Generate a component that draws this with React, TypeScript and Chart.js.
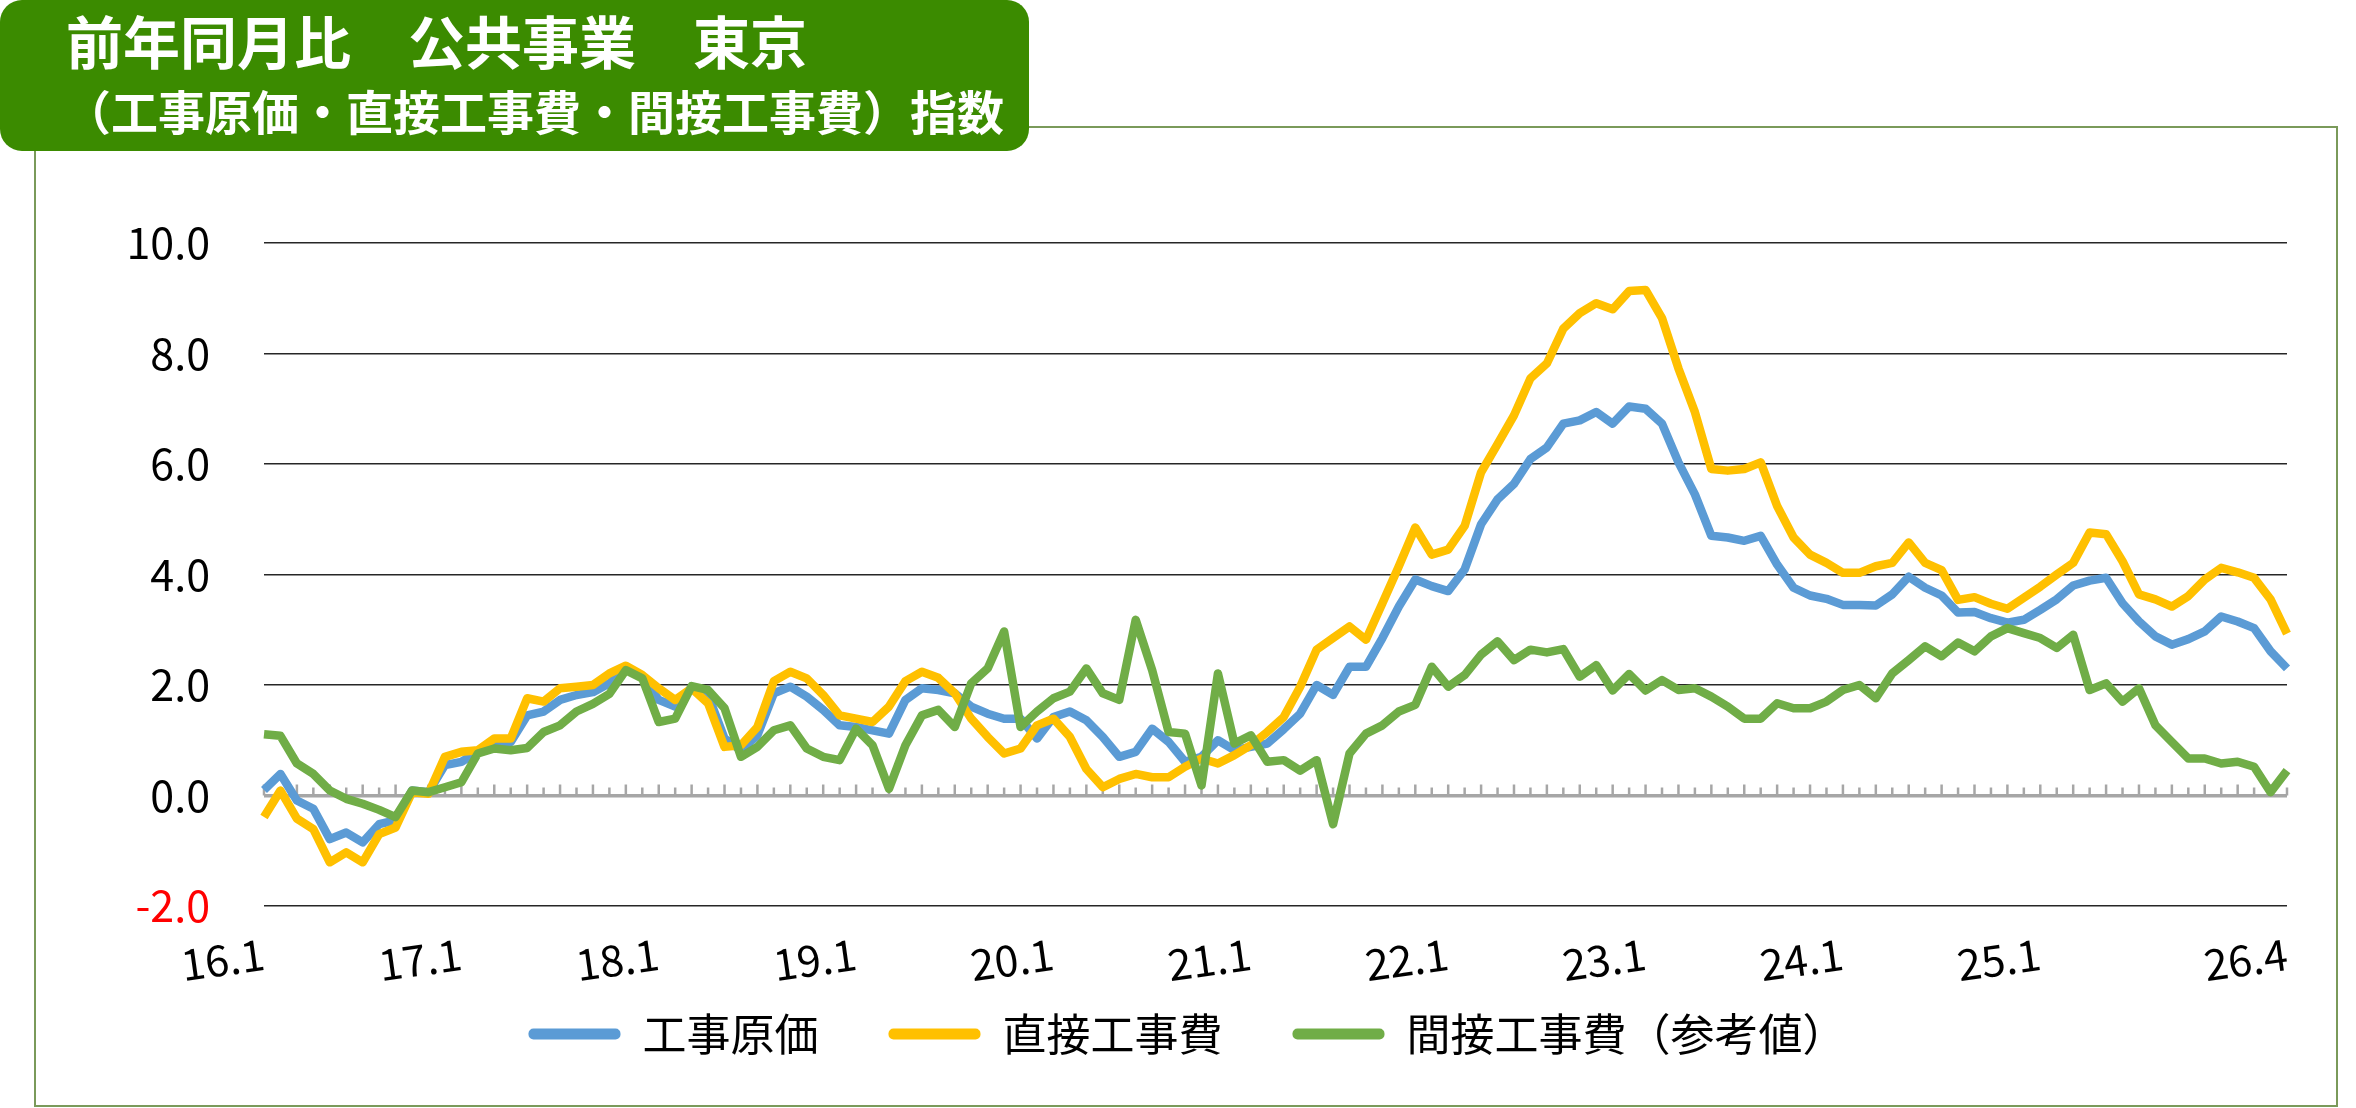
import React, { useEffect, useRef } from "react"
import { Chart, registerables } from "chart.js"

Chart.register(...registerables)

// 16.1 ～ 26.4 の月次カテゴリ
const months: string[] = []
for (let y = 16; y <= 26; y++) {
  for (let m = 1; m <= 12; m++) {
    if (y === 26 && m > 4) break
    months.push(`${y}.${m}`)
  }
}

const shownLabels = ["16.1", "17.1", "18.1", "19.1", "20.1", "21.1", "22.1", "23.1", "24.1", "25.1", "26.4"]

const seriesNames = ["工事原価", "直接工事費", "間接工事費（参考値）"]

const koujiGenka = [
  0.1, 0.39, -0.09, -0.24, -0.79, -0.67, -0.85, -0.52, -0.45, 0.09, 0.06, 0.55,
  0.61, 0.79, 0.97, 0.97, 1.45, 1.52, 1.73, 1.82, 1.87, 2.03, 2.3, 2.15,
  1.73, 1.61, 1.94, 1.82, 1.03, 0.82, 1.09, 1.85, 1.97, 1.79, 1.55, 1.27,
  1.24, 1.18, 1.12, 1.73, 1.94, 1.91, 1.85, 1.61, 1.48, 1.39, 1.39, 1.03,
  1.42, 1.52, 1.36, 1.06, 0.7, 0.79, 1.21, 0.97, 0.61, 0.7, 1.0, 0.82,
  0.88, 0.94, 1.2, 1.48, 2.0, 1.82, 2.33, 2.33, 2.85, 3.42, 3.91, 3.79,
  3.7, 4.09, 4.91, 5.36, 5.64, 6.09, 6.3, 6.73, 6.79, 6.94, 6.73, 7.04,
  7.0, 6.73, 6.03, 5.45, 4.7, 4.67, 4.61, 4.7, 4.18, 3.76, 3.62, 3.56,
  3.45, 3.45, 3.44, 3.64, 3.96, 3.76, 3.62, 3.31, 3.32, 3.21, 3.13, 3.18,
  3.36, 3.55, 3.8, 3.89, 3.94, 3.48, 3.15, 2.88, 2.73, 2.83, 2.97, 3.24,
  3.15, 3.03, 2.61, 2.3,
]

const chokusetsu = [
  -0.39, 0.09, -0.42, -0.61, -1.21, -1.03, -1.21, -0.7, -0.58, 0.06, 0.03, 0.7,
  0.79, 0.82, 1.03, 1.03, 1.76, 1.7, 1.94, 1.97, 2.0, 2.21, 2.35, 2.18,
  1.94, 1.73, 1.94, 1.67, 0.88, 0.91, 1.24, 2.07, 2.24, 2.12, 1.82, 1.45,
  1.39, 1.33, 1.61, 2.07, 2.24, 2.13, 1.85, 1.39, 1.06, 0.76, 0.85, 1.27,
  1.39, 1.06, 0.48, 0.15, 0.3, 0.39, 0.33, 0.33, 0.52, 0.67, 0.58, 0.73,
  0.91, 1.15, 1.42, 1.97, 2.64, 2.85, 3.06, 2.82, 3.48, 4.15, 4.85, 4.36,
  4.45, 4.88, 5.85, 6.36, 6.88, 7.55, 7.82, 8.45, 8.73, 8.91, 8.8, 9.13,
  9.15, 8.64, 7.73, 6.94, 5.91, 5.88, 5.91, 6.03, 5.24, 4.67, 4.36, 4.21,
  4.03, 4.03, 4.15, 4.21, 4.58, 4.21, 4.08, 3.54, 3.59, 3.47, 3.38, 3.58,
  3.78, 4.0, 4.21, 4.76, 4.73, 4.24, 3.64, 3.55, 3.42, 3.61, 3.91, 4.12,
  4.04, 3.94, 3.55, 2.93,
]

const kansetsu = [
  1.11, 1.08, 0.58, 0.39, 0.09, -0.06, -0.15, -0.26, -0.39, 0.09, 0.06, 0.15,
  0.24, 0.76, 0.85, 0.82, 0.86, 1.15, 1.27, 1.52, 1.66, 1.84, 2.27, 2.12,
  1.33, 1.39, 1.98, 1.91, 1.58, 0.7, 0.88, 1.18, 1.27, 0.85, 0.7, 0.64,
  1.21, 0.91, 0.12, 0.91, 1.45, 1.55, 1.24, 2.03, 2.3, 2.97, 1.24, 1.52,
  1.76, 1.88, 2.3, 1.85, 1.73, 3.18, 2.27, 1.15, 1.12, 0.18, 2.21, 0.94,
  1.09, 0.61, 0.64, 0.45, 0.64, -0.52, 0.76, 1.12, 1.27, 1.52, 1.64, 2.33,
  1.97, 2.18, 2.55, 2.79, 2.45, 2.64, 2.59, 2.65, 2.15, 2.36, 1.9, 2.2,
  1.9, 2.09, 1.91, 1.94, 1.79, 1.61, 1.39, 1.39, 1.67, 1.58, 1.58, 1.7,
  1.91, 2.0, 1.76, 2.21, 2.45, 2.7, 2.52, 2.77, 2.61, 2.88, 3.03, 2.94,
  2.85, 2.67, 2.91, 1.91, 2.03, 1.7, 1.94, 1.27, 0.97, 0.67, 0.67, 0.58,
  0.61, 0.52, 0.06, 0.45,
]

const colors = ["#5B9BD5", "#FFC000", "#70AD47"]

const tickFont = { family: "'Noto Sans CJK JP', 'Liberation Sans', sans-serif", size: 43 }

// 0 の軸上の目盛り（各月）と、回転ラベルが切れないようにする調整
const zeroTicks = {
  id: "zeroTicks",
  afterLayout(chart: any) {
    const x = chart.scales.x
    x.bottom = x.top + 110
  },
  beforeDatasetsDraw(chart: any) {
    const { ctx, scales } = chart
    const x = scales.x
    const y0 = scales.y.getPixelForValue(0)
    ctx.save()
    ctx.strokeStyle = "#A6A6A6"
    ctx.lineWidth = 2.5
    months.forEach((_, i) => {
      const px = x.getPixelForValue(i)
      ctx.beginPath()
      ctx.moveTo(px, y0)
      ctx.lineTo(px, y0 - (i % 2 === 0 ? 11 : 8))
      ctx.stroke()
    })
    ctx.restore()
  },
}

export default function App() {
  const chartRef = useRef<HTMLCanvasElement>(null)
  const chartInstanceRef = useRef<Chart | null>(null)

  useEffect(() => {
    if (!chartRef.current) return
    const ctx = chartRef.current.getContext("2d")
    if (!ctx) return

    chartInstanceRef.current?.destroy()

    const values = [koujiGenka, chokusetsu, kansetsu]
    chartInstanceRef.current = new Chart(ctx, {
      type: "line",
      data: {
        labels: months,
        datasets: values.map((data, i) => ({
          label: seriesNames[i],
          data,
          borderColor: colors[i],
          backgroundColor: colors[i],
          borderWidth: 8.5,
          pointRadius: 0,
          tension: 0,
          borderJoinStyle: "round" as const,
          order: 3 - i,
        })),
      },
      options: {
        responsive: false,
        animation: false,
        devicePixelRatio: 1,
        events: [],
        layout: { padding: { left: 88, top: 243, right: 69, bottom: 42 } },
        plugins: {
          tooltip: { enabled: false },
          legend: {
            position: "bottom",
            labels: {
              boxWidth: 92,
              boxHeight: 11,
              padding: 70,
              useBorderRadius: true,
              borderRadius: 5,
              color: "#000",
              font: { family: "'Noto Sans CJK JP', sans-serif", size: 44 },
              sort: (a: any, b: any) => a.datasetIndex - b.datasetIndex,
              generateLabels: (chart: any) =>
                Chart.defaults.plugins.legend.labels
                  .generateLabels(chart)
                  .map((l: any) => ({ ...l, fillStyle: l.strokeStyle, lineWidth: 0 })),
            },
          },
        },
        scales: {
          x: {
            offset: false,
            grid: { display: false },
            border: { display: false },
            ticks: {
              autoSkip: false,
              minRotation: 8,
              maxRotation: 8,
              padding: 14,
              color: "#000",
              font: tickFont,
              callback: (_v: any, index: number) =>
                shownLabels.includes(months[index]) ? months[index] : "",
            },
            afterFit: (s: any) => {
              s.height = 36
            },
          },
          y: {
            min: -2,
            max: 10,
            border: { display: false },
            grid: {
              drawTicks: false,
              color: (c: any) => (c.tick.value === 0 ? "#A6A6A6" : "#262626"),
              lineWidth: (c: any) => (c.tick.value === 0 ? 3.5 : 1.5),
            },
            ticks: {
              stepSize: 2,
              padding: 54,
              font: tickFont,
              color: (c: any) => (c.tick.value < 0 ? "#FF0000" : "#000"),
              callback: (v: any) => Number(v).toFixed(1),
            },
            afterFit: (s: any) => {
              s.width = 176
            },
          },
        },
      },
      plugins: [zeroTicks],
    })

    return () => {
      chartInstanceRef.current?.destroy()
      chartInstanceRef.current = null
    }
  }, [])

  const titleFont = "'Noto Sans CJK JP', sans-serif"

  return (
    <div style={{ position: "absolute", left: 0, top: 0, width: 2356, height: 1108, background: "#fff", overflow: "hidden" }}>
      <div
        style={{
          position: "absolute",
          left: 34,
          top: 126,
          width: 2304,
          height: 981,
          border: "2px solid #7A9A5A",
          boxSizing: "border-box",
        }}
      />
      <canvas
        ref={chartRef}
        width={2356}
        height={1108}
        style={{ position: "absolute", left: 0, top: 0, width: 2356, height: 1108 }}
      />
      <div
        style={{
          position: "absolute",
          left: 0,
          top: 0,
          width: 1029,
          height: 151,
          background: "#3B8B00",
          borderRadius: 22,
          color: "#fff",
          fontFamily: titleFont,
          fontWeight: 700,
        }}
      >
        <div style={{ position: "absolute", left: 66, top: 11, fontSize: 57, lineHeight: 1, whiteSpace: "pre" }}>
          前年同月比　公共事業　東京
        </div>
        <div style={{ position: "absolute", left: 64, top: 86, fontSize: 47, lineHeight: 1, whiteSpace: "pre" }}>
          （工事原価・直接工事費・間接工事費）指数
        </div>
      </div>
    </div>
  )
}
